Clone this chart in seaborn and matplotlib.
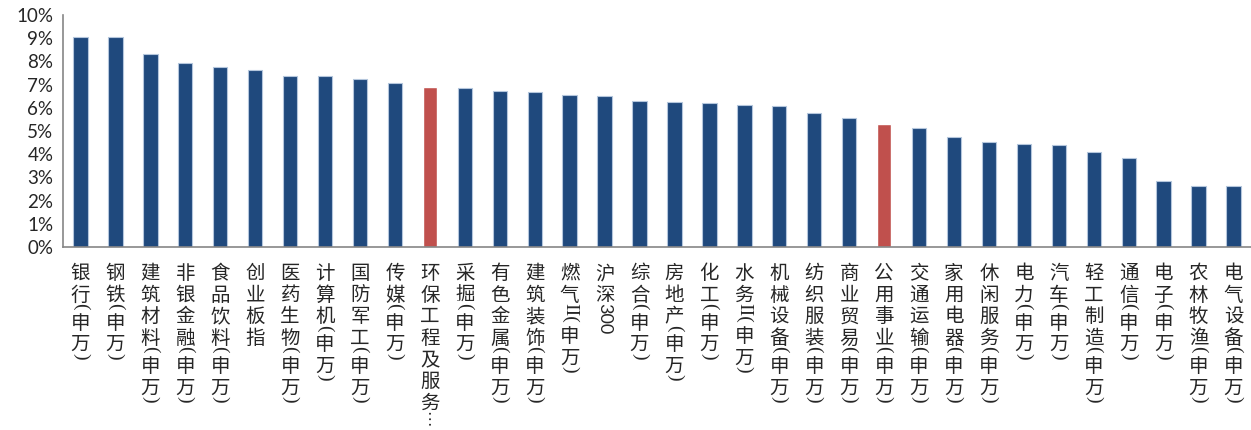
import numpy as np
import pandas as pd
import seaborn as sns
import matplotlib.pyplot as plt
from matplotlib.ticker import FuncFormatter, MultipleLocator

names = ["银行(申万)", "钢铁(申万)", "建筑材料(申万)", "非银金融(申万)", "食品饮料(申万)",
         "创业板指", "医药生物(申万)", "计算机(申万)", "国防军工(申万)", "传媒(申万)",
         "环保工程及服务…", "采掘(申万)", "有色金属(申万)", "建筑装饰(申万)", "燃气II(申万)",
         "沪深300", "综合(申万)", "房地产(申万)", "化工(申万)", "水务II(申万)",
         "机械设备(申万)", "纺织服装(申万)", "商业贸易(申万)", "公用事业(申万)", "交通运输(申万)",
         "家用电器(申万)", "休闲服务(申万)", "电力(申万)", "汽车(申万)", "轻工制造(申万)",
         "通信(申万)", "电子(申万)", "农林牧渔(申万)", "电气设备(申万)"]
values = [9.04, 9.04, 8.30, 7.93, 7.74,
          7.64, 7.38, 7.38, 7.25, 7.08,
          6.90, 6.85, 6.72, 6.70, 6.54,
          6.51, 6.28, 6.24, 6.19, 6.11,
          6.06, 5.76, 5.55, 5.30, 5.14,
          4.74, 4.51, 4.43, 4.40, 4.08,
          3.82, 2.84, 2.64, 2.61]
highlight = ["环保工程及服务…", "公用事业(申万)"]

blue = "#1f497d"
red = "#c0504d"
grey = "#868686"

df = pd.DataFrame({"name": names, "value": np.array(values) / 100})
pal = {n: (red if n in highlight else blue) for n in names}

sns.set_style("white")
plt.rcParams['font.family'] = ['Noto Sans CJK SC', 'DejaVu Sans']

fig = plt.figure(figsize=(12.51, 4.30), dpi=100)
ax = fig.add_axes([63 / 1251, 183 / 430, 1188 / 1251, 232 / 430])

sns.barplot(data=df, x="name", y="value", hue="name", palette=pal, legend=False,
            width=0.41, saturation=1, ax=ax)
for p, n in zip(ax.patches, names):
    if n not in highlight:
        p.set_edgecolor("#b4c6dc")
        p.set_linewidth(0.8)

ax.set_xlim(-0.5, len(names) - 0.5)
ax.set_ylim(0, 0.10)
ax.yaxis.set_major_locator(MultipleLocator(0.01))
ax.yaxis.set_major_formatter(FuncFormatter(lambda v, _: f"{v * 100:.0f}%"))
for t in ax.get_yticklabels():
    t.set_fontfamily("Lato")
ax.tick_params(axis="y", labelsize=13.5, length=5, width=1, color=grey, direction="out", pad=2)
ax.set_xticks(np.arange(-0.5, len(names), 1.0))
ax.set_xticklabels([])
ax.tick_params(axis="x", length=5, width=1, color=grey, direction="out")
ax.set_xlabel("")
ax.set_ylabel("")
sns.despine(ax=ax)
for s in ["left", "bottom"]:
    ax.spines[s].set_color(grey)
    ax.spines[s].set_linewidth(1.2)

# vertical labels: stack CJK chars, rotate latin runs
fig.canvas.draw()
renderer = fig.canvas.get_renderer()
trans = ax.get_xaxis_transform()
fs = 14
for i, lab in enumerate(names):
    tokens = []
    run = ""
    for ch in lab:
        if ord(ch) >= 0x2E80:
            if run:
                tokens.append(("r", run))
                run = ""
            tokens.append(("c", ch))
        else:
            run += ch
    if run:
        tokens.append(("r", run))
    off = 16
    prev = None
    for kind, tok in tokens:
        if kind == "c":
            if prev == "r":
                off += 2
            ax.annotate(tok, xy=(i, 0), xycoords=trans, xytext=(0, -off),
                        textcoords="offset pixels", ha="center", va="top",
                        fontsize=fs, annotation_clip=False)
            off += 21.6
        else:
            if prev == "c":
                off -= 3
            if tok.isdigit():
                fam, size = "Lato", fs - 1
            elif tok == "…":
                fam, size = "Liberation Serif", fs - 2
            else:
                fam, size = "Liberation Serif", fs
            t = ax.annotate(tok, xy=(i, 0), xycoords=trans, xytext=(0, -off),
                            textcoords="offset pixels", ha="center", va="top",
                            rotation=270, fontsize=size, family=fam,
                            annotation_clip=False)
            h = t.get_window_extent(renderer).height
            off += h + 1
        prev = kind

fig.savefig("out.png", dpi=100)
